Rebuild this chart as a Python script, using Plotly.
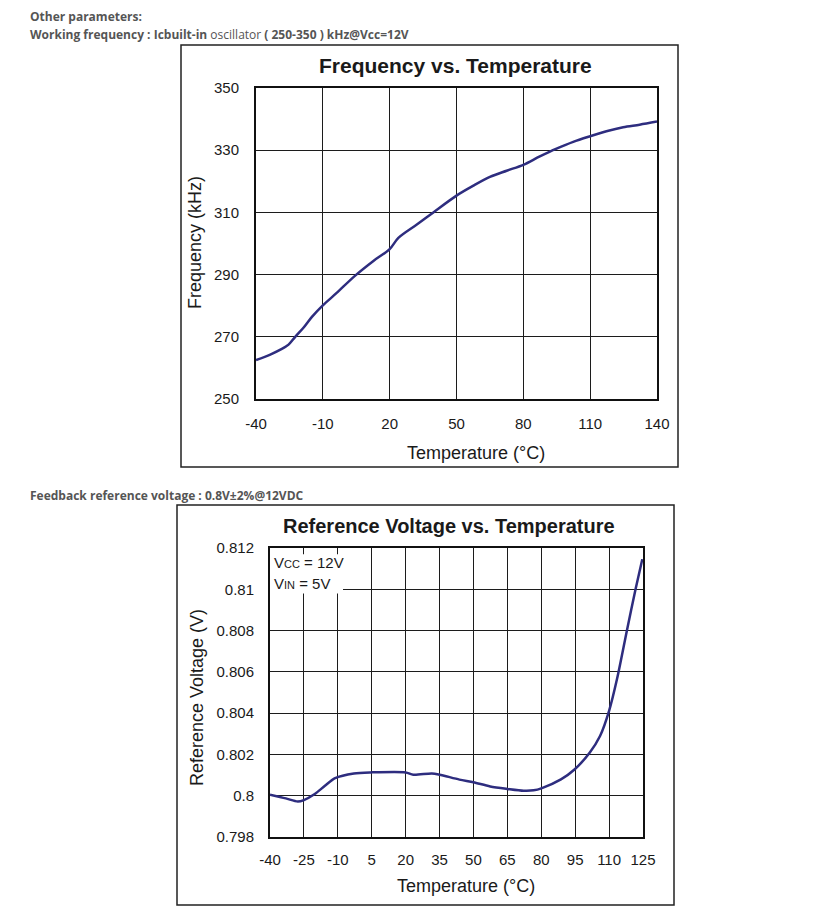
import plotly.graph_objects as go

# the page body adds an 8px margin, so the figure is drawn 8px in and sized to the rest
OFF = 8
W, H = 824 - OFF, 923 - OFF

# ---- data ----
freq_temp = [-40, -33.6, -28.4, -25.4, -22.4, -18.7, -14.9, -10, -3.8, 4.4, 12.7, 20, 23.9, 32.2, 39.6,
             50, 57.6, 65.0, 72.5, 80, 87.4, 94.9, 102.4, 110, 117.3, 124.8, 132.2, 140]
freq_khz = [262.5, 264.3, 266.1, 267.5, 270.0, 272.9, 276.4, 280.1, 284.1, 289.6, 294.4, 298.2, 301.8,
            306.1, 310.0, 315.4, 318.6, 321.4, 323.4, 325.3, 328.0, 330.5, 332.7, 334.5, 336.1, 337.4,
            338.2, 339.2]

vref_temp = [-40, -33, -27.7, -25, -20.2, -15.7, -11.2, -2.9, 5, 20, 23.4, 31.6, 35, 43.8,
             50, 57.4, 65, 72.2, 76.6, 80.3, 88.7, 94.7, 101.4, 106, 110, 113.5, 118, 121.7, 124.7]
vref_v = [0.80005, 0.79987, 0.79972, 0.79979, 0.80008, 0.80048, 0.80085, 0.80108, 0.80113, 0.80113,
          0.80102, 0.80108, 0.80102, 0.80078, 0.80065, 0.80045, 0.80033, 0.80024, 0.80026, 0.80037,
          0.80079, 0.80127, 0.80208, 0.80289, 0.80411, 0.80565, 0.80807, 0.81, 0.81146]

freq_xticks = [-40, -10, 20, 50, 80, 110, 140]
freq_xtext = ["-40", "-10", "20", "50", "80", "110", "140"]
freq_yticks = [250, 270, 290, 310, 330, 350]
vref_xticks = [-40, -25, -10, 5, 20, 35, 50, 65, 80, 95, 110, 125]
vref_xtext = ["-40", "-25", "-10", "5", "20", "35", "50", "65", "80", "95", "110", "125"]
vref_yticks = [0.798, 0.8, 0.802, 0.804, 0.806, 0.808, 0.81, 0.812]
vref_ytext = ["0.798", "0.8", "0.802", "0.804", "0.806", "0.808", "0.81", "0.812"]


def px(x):
    return (x - OFF) / W


def py(y):
    return 1 - (y - OFF) / H


LINE = "#2e2d7f"
FONT = "Liberation Sans, Arial, sans-serif"
TXT = "#1a1a1a"

fig = go.Figure()
fig.add_trace(go.Scatter(x=freq_temp, y=freq_khz, mode="lines",
                         line=dict(color=LINE, width=2.5, shape="spline", smoothing=0.9),
                         xaxis="x", yaxis="y", showlegend=False, hoverinfo="skip"))
fig.add_trace(go.Scatter(x=vref_temp, y=vref_v, mode="lines",
                         line=dict(color=LINE, width=2.5, shape="spline", smoothing=0.8),
                         xaxis="x2", yaxis="y2", showlegend=False, hoverinfo="skip"))

ax_common = dict(showgrid=True, gridcolor="#1c1c1c", gridwidth=1.3,
                 showline=True, linecolor="#111", linewidth=2, mirror=True,
                 zeroline=False, ticks="", fixedrange=True, automargin=False,
                 tickfont=dict(family=FONT, size=15, color=TXT))

fig.update_layout(
    template="none",
    width=W, height=H, margin=dict(l=0, r=0, t=0, b=0, pad=0, autoexpand=False),
    paper_bgcolor="white", plot_bgcolor="white",
    xaxis=dict(domain=[px(256), px(657)], range=[-40, 140], tickvals=freq_xticks,
               ticktext=freq_xtext, anchor="y", ticklabelstandoff=10, **ax_common),
    yaxis=dict(domain=[py(399), py(88)], range=[250, 350], tickvals=freq_yticks,
               anchor="x", ticklabelstandoff=12, **ax_common),
    xaxis2=dict(domain=[px(270), px(643)], range=[-40, 125], tickvals=vref_xticks,
                ticktext=vref_xtext, anchor="y2", ticklabelstandoff=8, **ax_common),
    yaxis2=dict(domain=[py(837), py(548)], range=[0.798, 0.812], tickvals=vref_yticks,
                ticktext=vref_ytext, anchor="x2", ticklabelstandoff=11, **ax_common),
)

shapes = [
    dict(type="rect", xref="paper", yref="paper", x0=px(181), x1=px(678), y0=py(467), y1=py(45),
         line=dict(color="#222", width=1.5), fillcolor="rgba(0,0,0,0)"),
    dict(type="rect", xref="paper", yref="paper", x0=px(177), x1=px(674), y0=py(905), y1=py(505),
         line=dict(color="#222", width=1.5), fillcolor="rgba(0,0,0,0)"),
    # white box behind the Vcc/Vin note
    dict(type="rect", xref="x2", yref="y2", x0=-40, x1=-7.7, y0=0.8098, y1=0.8117,
         line=dict(width=0), fillcolor="white", layer="between"),
]
fig.update_layout(shapes=shapes)

GRAY = "#555555"
HF = "Open Sans, sans-serif"
ann = [
    dict(x=px(28), y=py(17), text="<b>Other parameters:</b>", xanchor="left", yanchor="middle",
         font=dict(family=HF, size=12, color=GRAY)),
    dict(x=px(28), y=py(35),
         text="<b>Working frequency : Icbuilt-in</b> oscillator <b>( 250-350 ) kHz@Vcc=12V</b>",
         xanchor="left", yanchor="middle", font=dict(family=HF, size=12, color=GRAY)),
    dict(x=px(28), y=py(495), text="<b>Feedback reference voltage : 0.8V±2%@12VDC</b>",
         xanchor="left", yanchor="middle", font=dict(family=HF, size=12, color=GRAY)),
    # chart 1 texts
    dict(x=px(455), y=py(65), text="<b>Frequency vs. Temperature</b>", xanchor="center",
         yanchor="middle", font=dict(family=FONT, size=21, color=TXT)),
    dict(x=px(476), y=py(453), text="Temperature (°C)", xanchor="center", yanchor="middle",
         font=dict(family=FONT, size=18, color=TXT)),
    dict(x=px(195), y=py(243), text="Frequency (kHz)", textangle=-90, xanchor="center",
         yanchor="middle", font=dict(family=FONT, size=18, color=TXT)),
    # chart 2 texts
    dict(x=px(449), y=py(526), text="<b>Reference Voltage vs. Temperature</b>", xanchor="center",
         yanchor="middle", font=dict(family=FONT, size=20, color=TXT)),
    dict(x=px(466), y=py(886), text="Temperature (°C)", xanchor="center", yanchor="middle",
         font=dict(family=FONT, size=18, color=TXT)),
    dict(x=px(197), y=py(698), text="Reference Voltage (V)", textangle=-90, xanchor="center",
         yanchor="middle", font=dict(family=FONT, size=18, color=TXT)),
    dict(x=px(272), y=py(562), text="V<span style='font-size:11px'>CC</span> = 12V",
         xanchor="left", yanchor="middle", font=dict(family=FONT, size=15, color=TXT)),
    dict(x=px(272), y=py(583), text="V<span style='font-size:11px'>IN</span> = 5V",
         xanchor="left", yanchor="middle", font=dict(family=FONT, size=15, color=TXT)),
]
for a in ann:
    a.update(xref="paper", yref="paper", showarrow=False)
fig.update_layout(annotations=ann)

fig.write_html("out.html")
